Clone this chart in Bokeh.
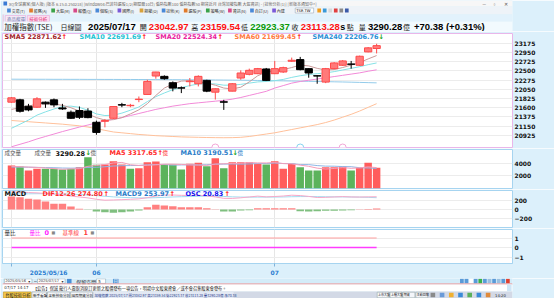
from bokeh.plotting import figure
from bokeh.models import Range1d, FixedTicker, Label, ColumnDataSource
from bokeh.layouts import column
from bokeh.core.properties import value
from bokeh.embed import file_html
from bokeh.resources import INLINE

# ---------------- data ----------------
dates = ["2025/05/16", "2025/05/19", "2025/05/20", "2025/05/21", "2025/05/22", "2025/05/23",
         "2025/05/26", "2025/05/27", "2025/05/28", "2025/05/29",
         "2025/06/02", "2025/06/03", "2025/06/04", "2025/06/05", "2025/06/06", "2025/06/09",
         "2025/06/10", "2025/06/11", "2025/06/12", "2025/06/13", "2025/06/16", "2025/06/17",
         "2025/06/18", "2025/06/19", "2025/06/20", "2025/06/23", "2025/06/24", "2025/06/25",
         "2025/06/26", "2025/06/27", "2025/06/30",
         "2025/07/01", "2025/07/02", "2025/07/03", "2025/07/04", "2025/07/07", "2025/07/08",
         "2025/07/09", "2025/07/10", "2025/07/11", "2025/07/14", "2025/07/15", "2025/07/16",
         "2025/07/17"]

opens = [21736, 21793, 21638, 21613, 21736, 21793, 21597, 21491, 21532, 21520,
         21246, 21270, 21344, 21675, 21650, 21800, 21924, 22373, 22365, 22210,
         22085, 22235, 22185, 22267, 21980, 21745, 22005, 22324, 22414, 22430,
         22545, 22430, 22471, 22733, 22773, 22553, 22380, 22226, 22553, 22635,
         22665, 22635, 22961, 23042.97]
highs = [21860, 21818, 21695, 21858, 21752, 21826, 21695, 21532, 21630, 21589,
         21286, 21327, 21640, 21720, 21695, 21875, 22283, 22475, 22390, 22242,
         22120, 22325, 22390, 22283, 22070, 21793, 22200, 22512, 22553, 22570,
         22570, 22740, 22600, 22822, 22839, 22560, 22385, 22570, 22710, 22760,
         22741, 22870, 23080, 23159.54]
lows = [21720, 21483, 21515, 21597, 21597, 21613, 21548, 21327, 21327, 21344,
        20943, 21123, 21330, 21613, 21613, 21736, 21920, 22308, 22283, 22000,
        21957, 22120, 22120, 21980, 21800, 21548, 22000, 22283, 22390, 22420,
        22250, 22420, 22450, 22716, 22512, 22332, 22185, 22200, 22540, 22620,
        22553, 22620, 22950, 22923.37]
closes = [21842, 21515, 21548, 21818, 21695, 21670, 21572, 21344, 21368, 21360,
          21000, 21290, 21630, 21665, 21660, 21810, 22242, 22471, 22308, 22079,
          22079, 22250, 22365, 22005, 22063, 21736, 22185, 22447, 22512, 22553,
          22267, 22553, 22577, 22757, 22528, 22447, 22373, 22553, 22692, 22741,
          22660, 22855, 23059, 23113.28]

sma5 = [21560, 21600, 21640, 21690, 21700, 21690, 21660, 21600, 21520, 21450,
        21360, 21300, 21310, 21360, 21450, 21550, 21700, 21900, 22080, 22180,
        22250, 22260, 22230, 22200, 22150, 22080, 22060, 22100, 22230, 22380,
        22470, 22500, 22530, 22580, 22640, 22620, 22560, 22520, 22530, 22580,
        22640, 22700, 22790, 22871.62]
sma10 = [21100, 21200, 21300, 21420, 21500, 21570, 21630, 21640, 21610, 21540,
         21450, 21410, 21420, 21470, 21540, 21620, 21750, 21870, 21960, 22040,
         22090, 22140, 22180, 22190, 22180, 22150, 22150, 22170, 22200, 22230,
         22240, 22260, 22290, 22340, 22380, 22410, 22430, 22450, 22480, 22520,
         22560, 22600, 22650, 22691.69]
sma20 = [20650, 20710, 20770, 20840, 20900, 20960, 21020, 21075, 21130, 21180,
         21230, 21280, 21320, 21360, 21410, 21460, 21510, 21560, 21600, 21640,
         21670, 21700, 21720, 21740, 21760, 21780, 21810, 21850, 21900, 21950,
         22000, 22080, 22140, 22200, 22240, 22270, 22300, 22330, 22360, 22390,
         22420, 22450, 22490, 22524.34]
sma60 = [21290, 21275, 21260, 21245, 21230, 21215, 21200, 21180, 21160, 21130,
         21090, 21050, 21010, 20990, 20970, 20950, 20935, 20920, 20910, 20900,
         20890, 20885, 20880, 20875, 20872, 20870, 20872, 20880, 20900, 20930,
         20960, 20990, 21030, 21070, 21110, 21150, 21190, 21240, 21300, 21370,
         21440, 21520, 21610, 21699.45]
sma240 = [22296, 22295, 22295, 22294, 22294, 22293, 22293, 22292, 22292, 22291,
          22291, 22290, 22290, 22289, 22289, 22288, 22287, 22286, 22285, 22284,
          22283, 22282, 22280, 22279, 22277, 22275, 22273, 22271, 22268, 22265,
          22262, 22259, 22255, 22252, 22248, 22244, 22240, 22236, 22232, 22228,
          22223, 22218, 22212, 22206.76]

volume = [3650, 3490, 2860, 3120, 3120, 3120, 3015, 3120, 3385, 4970,
          3755, 3810, 4340, 3810, 3120, 3230, 4180, 4290, 3810, 3810,
          3015, 3915, 4075, 3545, 4815, 3230, 4180, 4180, 4180, 3915,
          3810, 4340, 3120, 3915, 3385, 2860, 2860, 3385, 3385, 3490,
          2860, 3300, 4075, 3290.28]
vol_ma5 = [3500, 3450, 3400, 3350, 3250, 3150, 3050, 3100, 3150, 3520,
           3650, 3810, 4050, 4140, 3770, 3660, 3700, 3770, 3860, 3860,
           3820, 3760, 3720, 3670, 3870, 3920, 3970, 4000, 4120, 4060,
           4050, 4120, 3960, 3910, 3710, 3520, 3230, 3090, 3180, 3320,
           3200, 3280, 3430, 3317.65]
vol_ma10 = [3400, 3400, 3380, 3350, 3330, 3300, 3250, 3230, 3250, 3340,
            3370, 3450, 3570, 3620, 3640, 3660, 3760, 3790, 3810, 3710,
            3740, 3760, 3740, 3770, 3860, 3870, 3890, 3860, 3900, 3960,
            3960, 4040, 3960, 3960, 3790, 3790, 3640, 3550, 3540, 3480,
            3460, 3300, 3260, 3190.51]

dif = [380, 375, 365, 358, 345, 330, 312, 290, 270, 250,
       220, 200, 205, 212, 220, 228, 255, 290, 310, 312,
       305, 302, 310, 292, 272, 240, 238, 252, 270, 288,
       272, 280, 290, 308, 300, 282, 258, 262, 270, 278,
       270, 268, 272, 274.80]
macd9 = [330, 335, 338, 340, 340, 338, 335, 330, 322, 312,
         300, 285, 272, 262, 255, 250, 250, 255, 262, 270,
         275, 280, 285, 287, 285, 280, 273, 268, 266, 267,
         267, 268, 270, 275, 278, 279, 277, 274, 272, 271,
         269, 267, 262, 253.97]
osc = [280, 265, 229, 215, 172, 122, 122, 65, 14, -5,
       -43, -57, -72, -57, -43, -22, 50, 100, 86, 72,
       50, 50, 50, 29, 7, -43, -43, -22, -14, 29,
       29, 29, 29, 29, -36, -43, -36, -29, -29, -22,
       -14, 8, 12, 20.83]

vol_ratio = [0.0] * 44
base_line = [1.0] * 44
event_idx = [24, 34, 39]
event_col = ["#f2a6d6", "#86d3ef", "#f2a6d6"]

price_ticks = [23175, 22950, 22725, 22500, 22275, 22050, 21825, 21600, 21375, 21150, 20925]
vol_ticks = [2000, 4000]
macd_ticks = [-200, 0, 200]
ratio_ticks = [-1, 0, 1]

# ---------------- layout constants ----------------
W = 554
BG = "#dcf0fb"
N = len(dates)
idx = list(range(N))
xr = Range1d(-1.06, 59.0)
month_idx = [i for i, d in enumerate(dates) if i == 0 or d[5:7] != dates[i - 1][5:7]]
BOLD_FONT = "DejaVu Sans"
CJK = "Noto Sans CJK TC"
NUM = "Liberation Sans"


def make_fig(h, yr, ticks, top=1, bottom=1, xaxis=False, outline="#a6d4f0"):
    f = figure(width=W, height=h, x_range=xr, y_range=yr, output_backend="svg",
               toolbar_location=None, x_axis_location=("below" if xaxis else None),
               y_axis_location="right", min_border_left=2, min_border_right=42,
               min_border_top=top, min_border_bottom=bottom)
    f.background_fill_color = "white"
    f.border_fill_color = BG
    f.outline_line_color = outline
    f.outline_line_width = 1
    ax = f.yaxis[0]
    ax.ticker = FixedTicker(ticks=ticks)
    ax.axis_line_color = None
    ax.major_tick_line_color = None
    ax.minor_tick_line_color = None
    ax.major_tick_out = 0
    ax.major_tick_in = 0
    ax.major_label_standoff = 2
    ax.major_label_text_font = BOLD_FONT
    ax.major_label_text_font_style = "bold"
    ax.major_label_text_font_size = "6px"
    ax.major_label_text_color = "#111111"
    f.ygrid.ticker = FixedTicker(ticks=ticks)
    f.ygrid.grid_line_color = "#ececec"
    f.xgrid.ticker = FixedTicker(ticks=month_idx)
    f.xgrid.grid_line_color = "#e6e6e6"
    return f


def add_label(f, x, y, text, color, size="6.5px", bold=True, font=BOLD_FONT):
    f.add_layout(Label(x=x, y=y, x_units="screen", y_units="data", text=text,
                       text_color=color, text_font_size=size, text_font=font,
                       text_font_style=("bold" if bold else "normal"),
                       text_baseline="middle", text_align="left"))


# ---------------- price panel ----------------
p = make_fig(117, Range1d(20632, 23409), price_ticks, top=2, bottom=1, outline="#e9b6ea")
up = [c >= o for o, c in zip(opens, closes)]
csrc = ColumnDataSource(dict(
    x=idx, high=highs, low=lows,
    top=[max(o, c) for o, c in zip(opens, closes)],
    bottom=[min(o, c) for o, c in zip(opens, closes)],
    fill=["#ff7a7a" if u else "#000000" for u in up],
    line=["#ff4a4a" if u else "#000000" for u in up],
))
for vals, col in [(sma240, "#93cbea"), (sma60, "#ffc09a"), (sma20, "#f28ad8"),
                  (sma10, "#86e2e6"), (sma5, "#c99a9a")]:
    p.line(idx, vals, line_color=col, line_width=1)
p.segment(x0="x", y0="high", x1="x", y1="low", line_color="line", line_width=1, source=csrc)
p.vbar(x="x", top="top", bottom="bottom", width=0.86, fill_color="fill", line_color="line",
       line_width=1, source=csrc)
p.scatter(event_idx, [20632] * len(event_idx), size=7, marker="circle", fill_color="white",
          line_color=event_col, line_width=1)

yh = 23319
add_label(p, 2, yh, "SMA5 22871.62", "#a3262b")
add_label(p, 59, yh, "↑", "#ff1010")
add_label(p, 77, yh, "SMA10 22691.69", "#1ec4d4")
add_label(p, 139, yh, "↑", "#ff1010")
add_label(p, 153, yh, "SMA20 22524.34", "#e8229e")
add_label(p, 215, yh, "↑", "#ff1010")
add_label(p, 232, yh, "SMA60 21699.45", "#ff7a3c")
add_label(p, 294, yh, "↑", "#ff1010")
add_label(p, 310, yh, "SMA240 22206.76", "#2a90d6")
add_label(p, 376, yh, "↓", "#10a010")

# ---------------- volume panel ----------------
v = make_fig(41, Range1d(0, 6190), vol_ticks)
vcol = ["#ff5c5c" if (i == 0 and up[0]) or (i > 0 and closes[i] > closes[i - 1]) else "#5cb35c"
        for i in idx]
v.vbar(x=idx, top=volume, bottom=0, width=0.88, fill_color=vcol, line_color=None)
v.line(idx, vol_ma10, line_color="#8fb6e6", line_width=1)
v.line(idx, vol_ma5, line_color="#f59db8", line_width=1)
yv = 5603
add_label(v, 2, yv, "成交量", "#555555", size="5.5px", bold=False, font=CJK)
add_label(v, 32, yv, "成交量", "#555555", size="5.5px", bold=False, font=CJK)
add_label(v, 53, yv, "3290.28", "#111111")
add_label(v, 83, yv, "↓", "#10a010")
add_label(v, 88, yv, "億", "#555555", size="5.5px", bold=False, font=CJK)
add_label(v, 107, yv, "MA5 3317.65", "#ff2a2a")
add_label(v, 155, yv, "↑", "#ff1010")
add_label(v, 160, yv, "億", "#ff2a2a", size="5.5px", bold=False, font=CJK)
add_label(v, 178, yv, "MA10 3190.51", "#2a7cc8")
add_label(v, 230, yv, "↓", "#10a010")
add_label(v, 235, yv, "億", "#2a7cc8", size="5.5px", bold=False, font=CJK)

# ---------------- MACD panel ----------------
m = make_fig(39, Range1d(-387, 409), macd_ticks)
ocol = ["#ff8080" if o >= 0 else "#7fbf7f" for o in osc]
m.vbar(x=idx, top=osc, bottom=0, width=0.88, fill_color=ocol, line_color=None)
m.line(idx, macd9, line_color="#a2dcf0", line_width=1)
m.line(idx, dif, line_color="#f7a8c8", line_width=1)
ym = 338
add_label(m, 2, ym, "MACD", "#111111")
add_label(m, 40, ym, "DIF12-26 274.80", "#ff2a2a")
add_label(m, 101, ym, "↑", "#ff1010")
add_label(m, 113, ym, "MACD9 253.97", "#2a7cc8")
add_label(m, 167, ym, "↑", "#ff1010")
add_label(m, 183, ym, "OSC 20.83", "#1010ee")
add_label(m, 222, ym, "↑", "#ff1010")

# ---------------- volume-ratio panel with date axis ----------------
r = make_fig(50, Range1d(-1.684, 1.895), ratio_ticks, top=1, bottom=15, xaxis=True)
r.line(idx, base_line, line_color="#ffa0a0", line_width=1.2)
r.line(idx, vol_ratio, line_color="#ff3cff", line_width=1.5)
xa = r.xaxis[0]
xa.ticker = FixedTicker(ticks=month_idx)
xa.major_label_overrides = {i: ("\u00a0" * 14 + dates[i]) if i == 0 else dates[i][5:7]
                            for i in month_idx}
xa.axis_line_color = "#a6d4f0"
xa.major_tick_line_color = "#7fb2da"
xa.minor_tick_line_color = None
xa.major_tick_out = 3
xa.major_tick_in = 0
xa.major_label_standoff = 2
xa.major_label_text_font = BOLD_FONT
xa.major_label_text_font_style = "bold"
xa.major_label_text_font_size = "6px"
xa.major_label_text_color = "#2a7cd0"
yr_ = 1.548
add_label(r, 2, yr_, "量比", "#333333", size="5.5px", bold=False, font=CJK)
add_label(r, 27, yr_, "量比", "#ff22ff", size="5.5px", bold=False, font=CJK)
add_label(r, 42, yr_, "0", "#ff22ff")
add_label(r, 49, yr_, "■", "#888888", size="4px", bold=False)
add_label(r, 60, yr_, "基準線", "#ff3a3a", size="5.5px", bold=False, font=CJK)
add_label(r, 81, yr_, "1", "#ff3a3a")
add_label(r, 88, yr_, "■", "#888888", size="4px", bold=False)


# ---------------- window chrome (pixel-space figures) ----------------
def chrome_fig(h):
    f = figure(width=W, height=h, x_range=Range1d(0, W), y_range=Range1d(h, 0),
               output_backend="svg", toolbar_location=None, x_axis_location=None,
               y_axis_location=None, min_border_left=0, min_border_right=0,
               min_border_top=0, min_border_bottom=0)
    f.outline_line_color = None
    f.background_fill_color = BG
    f.border_fill_color = BG
    f.xgrid.visible = False
    f.ygrid.visible = False
    return f


def rect(f, x, y, w, h, bg, border=None):
    f.quad(left=[x], right=[x + w], top=[y], bottom=[y + h], fill_color=bg,
           line_color=border, line_width=0.6)


def tx(f, x, y, s, size, color="#333333", bold=False, font=CJK):
    f.text(x=[x], y=[y], text=[s], text_font=value(font), text_font_size=value("%spx" % size),
           text_color=color, text_font_style=("bold" if bold else "normal"),
           text_baseline="middle", text_align="left")


tp = chrome_fig(31)
rect(tp, 0, 0, 554, 6, "#f7f7f7")
rect(tp, 1, 1, 4, 4, "#3a7bd5")
tx(tp, 7, 3.2, "XQ全球贏家(個人版) [版本 6.15.0.250218] [Window04:巴菲特選股1/2(期間最10日) 偏熱指數100 偏熱指數50 期貨近月 台灣加權指數 大盤資訊] - [技術分析(1)] [新版本通知中^]", 4, "#666666")
tx(tp, 521, 3, "－", 4.5, "#555555")
tx(tp, 532, 3, "▫", 4.5, "#555555")
tx(tp, 545, 3, "✕", 4.5, "#555555")
rect(tp, 0, 6, 554, 8, "#eef3f8")
tools = ["交易(T)", "帳務(A)", "大盤(M)", "報價(Q)", "個股(S)", "國際(I)", "期權(O)",
         "技術(K)", "選股(P)", "策略(W)", "資訊(N)", "自訂(U)", "內建"]
icol = ["#4a8ad8", "#e07a2a", "#3aa34a", "#d64a8a", "#4a8ad8", "#7a5ad8", "#d8a23a"]
for k, name in enumerate(tools):
    x0 = 5 + k * 24
    rect(tp, x0, 8, 4, 4, icol[k % len(icol)])
    tx(tp, x0 + 5, 10.2, name, 4, "#333333")
rect(tp, 318, 7.5, 20, 5, "#ffffff", "#99aabb")
tx(tp, 319, 10.1, "TSE.TW", 3.8, "#000000", font="DejaVu Sans")
for k, c in enumerate(["#f0a020", "#3a9ad8", "#d8d8d8", "#e04040", "#8a8a8a", "#3a5aa8"]):
    rect(tp, 342 + k * 6, 8, 4, 4, c)
rect(tp, 0, 14, 554, 7, "#e2f2fc")
rect(tp, 0, 14, 1, 17, "#f0a0c8")
rect(tp, 3, 15, 22, 6, "#f6eaf6", "#e9a6d8")
tx(tp, 5, 18.1, "商品搜尋", 4.5, "#5a6fa8")
rect(tp, 27, 15, 24, 6, "#fcdcef", "#e9a6d8")
tx(tp, 29, 18.1, "技術分析", 4.5, "#e0206a")
rect(tp, 1, 21, 553, 10, "#f2fafe")
hy = 26.2
tx(tp, 2, hy, "加權指數(TSE)", 7.5, "#222222")
tx(tp, 63, hy, "日線圖", 7, "#222222")
tx(tp, 93, hy, "2025/07/17", 9.5, "#000000", True, NUM)
tx(tp, 149, hy, "開", 7, "#222222")
tx(tp, 159, hy, "23042.97", 9.5, "#ff1010", True, NUM)
tx(tp, 205, hy, "高", 7, "#222222")
tx(tp, 215, hy, "23159.54", 9.5, "#ff1010", True, NUM)
tx(tp, 259, hy, "低", 7, "#222222")
tx(tp, 269, hy, "22923.37", 9.5, "#0a9a0a", True, NUM)
tx(tp, 314, hy, "收", 7, "#222222")
tx(tp, 324, hy, "23113.28", 9.5, "#ff1010", True, NUM)
tx(tp, 367, hy, "s", 9, "#000000", True, NUM)
tx(tp, 374, hy, "點", 7, "#222222")
tx(tp, 387, hy, "量", 7, "#222222")
tx(tp, 397, hy, "3290.28", 9.5, "#000000", True, NUM)
tx(tp, 435, hy, "億", 7, "#222222")
tx(tp, 447, hy, "+70.38 (+0.31%)", 9.5, "#000000", True, NUM)

bt = chrome_fig(20)
rect(bt, 0, 0, 554, 5, "#d4ecf9")
rect(bt, 2, 0.3, 30, 4.6, "#ffffff", "#88aabb")
tx(bt, 3, 2.7, "2025/05/16", 3.6, "#333333", font="DejaVu Sans")
tx(bt, 28, 2.5, "▾", 4, "#333333", font="DejaVu Sans")
tx(bt, 34, 2.5, "~", 4.5, "#333333", font="DejaVu Sans")
rect(bt, 38, 0.3, 30, 4.6, "#ffffff", "#88aabb")
tx(bt, 39, 2.7, "2025/07/17", 3.6, "#333333", font="DejaVu Sans")
tx(bt, 64, 2.5, "▾", 4, "#333333", font="DejaVu Sans")
rect(bt, 70, 0.3, 5, 4.6, "#4a8fd6")
tx(bt, 80, 2.6, "保留空間", 5, "#333333")
rect(bt, 102, 0.3, 10, 4.6, "#ffffff", "#88aabb")
tx(bt, 104, 2.7, "5", 4, "#333333", font="DejaVu Sans")
rect(bt, 120, 0.3, 6, 4.6, "#5a9ad8")
tx(bt, 120.5, 2.6, "日", 4.5, "#ffffff")
for k, c in enumerate(["#5a9ad8", "#5a9ad8", "#ffffff", "#5a9ad8", "#3ab04a", "#5a9ad8",
                       "#9ac0e0", "#5a9ad8", "#9ac0e0", "#5a9ad8", "#e04030"]):
    rect(bt, 497 + k * 5, 0.3, 4, 4.4, c)
rect(bt, 0, 5, 554, 0.9, "#f08a8a")
rect(bt, 0, 5.9, 554, 7, "#ffffff")
tx(bt, 2, 9.4, "07/17 14:17", 4, "#333333", font="DejaVu Sans")
tx(bt, 33, 9.4, "【公告】保誠 龍行人壽取消原訂更新之股價發布一項公告，明揚中文股東資會／或不會召集股東會發布。", 4.2, "#222222")
rect(bt, 548, 6, 5, 6.8, "#cfe6f7")
rect(bt, 0, 12.9, 554, 7.1, "#d3d9e6")
rect(bt, 1, 13.5, 30, 6, "#f3c64a", "#c89a20")
tx(bt, 3, 16.5, "台股技術分析", 4.2, "#222222")
for x0, w0, name in [(32, 16, "新手看盤"), (49, 24, "全新技術分析"), (74, 24, "國際期貨分析")]:
    rect(bt, x0, 13.5, w0, 6, "#f4f6fa", "#99aaaa")
    tx(bt, x0 + 1, 16.5, name, 3.6, "#222222")
rect(bt, 99, 13.5, 152, 6, "#e3e9f4")
tx(bt, 100, 16.5, "加權指數 2025/07/17 開23042.97 高23159.54 低22923.37 收23113.28 量3290.28億 漲70.38", 3.5, "#233a8a")
for k, name in enumerate(["上市大盤", "上櫃大盤", "期貨", "主動回報"]):
    rect(bt, 407 + k * 14, 13.7, 13, 5.6, "#f4f6fa", "#99aaaa")
    tx(bt, 408 + k * 14, 16.5, name, 3, "#222222")
for k, c in enumerate(["#8a8a8a", "#6a9ad8", "#f0b030", "#3a8ad8", "#5ab05a", "#3a8ad8", "#e08a3a"]):
    rect(bt, 465 + k * 10, 14.3, 5, 4.5, c)
tx(bt, 535, 16.5, "14:20", 3.8, "#222222", font="DejaVu Sans")

layout = column(tp, p, v, m, r, bt, spacing=0)
open("out.html", "w").write(file_html(layout, INLINE))
